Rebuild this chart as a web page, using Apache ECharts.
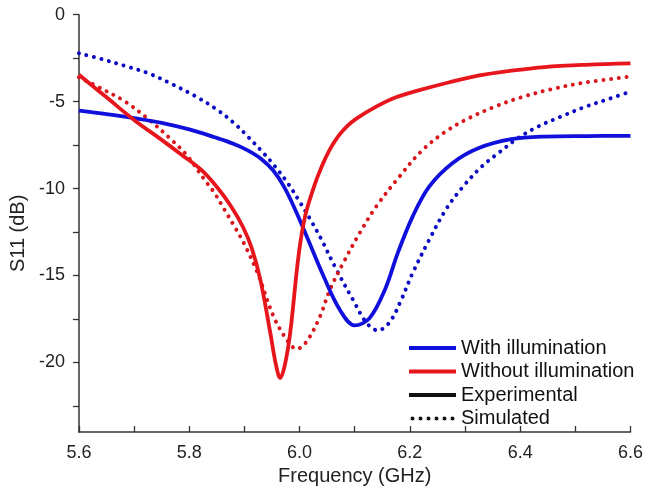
<!DOCTYPE html>
<html>
<head>
<meta charset="utf-8">
<script src="https://cdn.jsdelivr.net/npm/echarts@6/dist/echarts.min.js"></script>
<style>html,body{margin:0;padding:0;background:#fff}#c{width:646px;height:493px}</style>
</head>
<body>
<div id="c"></div>
<script>
// Experimental, with illumination
const expWith = [[5.6,-5.52],[5.65,-5.72],[5.7,-5.95],[5.75,-6.22],[5.8,-6.6],[5.846,-7.05],[5.88,-7.42],[5.906,-7.8],[5.93,-8.28],[5.952,-8.95],[5.972,-9.9],[5.992,-11.2],[6.015,-12.9],[6.043,-15.0],[6.073,-16.97],[6.1,-17.87],[6.127,-17.45],[6.155,-15.8],[6.178,-13.71],[6.205,-11.61],[6.235,-9.89],[6.277,-8.54],[6.324,-7.68],[6.384,-7.16],[6.444,-7.01],[6.52,-6.98],[6.6,-6.97]];
// Experimental, without illumination
const expWithout = [[5.6,-3.45],[5.65,-4.75],[5.7,-6.05],[5.75,-7.2],[5.786,-8.05],[5.822,-8.93],[5.852,-9.98],[5.876,-11.03],[5.897,-12.18],[5.913,-13.4],[5.929,-15.25],[5.947,-18.3],[5.957,-20.1],[5.965,-20.9],[5.973,-20.2],[5.983,-18.3],[5.998,-13.9],[6.01,-11.6],[6.025,-10.0],[6.04,-8.75],[6.055,-7.75],[6.07,-7.0],[6.085,-6.45],[6.103,-5.98],[6.139,-5.29],[6.175,-4.75],[6.214,-4.37],[6.27,-3.9],[6.324,-3.5],[6.384,-3.22],[6.444,-3.01],[6.52,-2.88],[6.6,-2.8]];
// Simulated, with illumination
const simWith = [[5.6,-2.22],[5.642,-2.56],[5.684,-2.95],[5.726,-3.37],[5.768,-3.98],[5.81,-4.67],[5.85,-5.45],[5.88,-6.2],[5.906,-7.0],[5.93,-7.8],[5.955,-8.7],[5.98,-9.75],[6.0,-10.75],[6.02,-11.8],[6.04,-12.95],[6.067,-14.67],[6.097,-16.4],[6.121,-17.7],[6.142,-18.16],[6.163,-17.7],[6.183,-16.5],[6.205,-14.86],[6.235,-12.95],[6.265,-11.22],[6.294,-9.98],[6.33,-8.74],[6.36,-7.97],[6.396,-7.1],[6.432,-6.44],[6.474,-5.86],[6.516,-5.32],[6.564,-4.81],[6.6,-4.42]];
// Simulated, without illumination
const simWithout = [[5.6,-3.6],[5.642,-4.27],[5.684,-5.0],[5.726,-6.01],[5.768,-7.2],[5.795,-8.06],[5.828,-9.5],[5.846,-10.26],[5.864,-11.22],[5.882,-12.18],[5.9,-13.2],[5.924,-14.86],[5.953,-17.36],[5.977,-18.7],[5.995,-19.23],[6.013,-18.79],[6.037,-17.36],[6.055,-15.82],[6.079,-14.29],[6.109,-12.56],[6.139,-11.03],[6.181,-9.31],[6.223,-7.78],[6.265,-6.72],[6.307,-5.95],[6.354,-5.29],[6.402,-4.75],[6.456,-4.29],[6.516,-3.91],[6.6,-3.56]];

const xTicks = [5.6,5.7,5.8,5.9,6.0,6.1,6.2,6.3,6.4,6.5,6.6];
const xLabels = [5.6,5.8,6.0,6.2,6.4,6.6];
const yTicks = [0,-2.5,-5,-7.5,-10,-12.5,-15,-17.5,-20,-22.5];
const yLabels = [0,-5,-10,-15,-20];

const legendNames = ['With illumination','Without illumination','Experimental','Simulated'];
const BLUE = '#1010dc', RED = '#e6161c', BLUE_D = '#0b0bc4', RED_D = '#d8161c';
const FONT = 'Liberation Sans, Arial, sans-serif';
const DOTS = 'path://M0,2a2,2 0 1,0 4,0a2,2 0 1,0 -4,0Z M8,2a2,2 0 1,0 4,0a2,2 0 1,0 -4,0Z M16,2a2,2 0 1,0 4,0a2,2 0 1,0 -4,0Z M24,2a2,2 0 1,0 4,0a2,2 0 1,0 -4,0Z M32,2a2,2 0 1,0 4,0a2,2 0 1,0 -4,0Z M40,2a2,2 0 1,0 4,0a2,2 0 1,0 -4,0Z';

const chart = echarts.init(document.getElementById('c'), null, {renderer:'canvas'});
const dotted = (c) => ({color:c, width:4, type:[0.01,7.7], cap:'round'});
const SM = 0.35;
chart.setOption({
  animation:false,
  backgroundColor:'#fff',
  grid:{left:77, right:12, top:14.7, bottom:61, containLabel:false},
  legend:{
    orient:'vertical', left:404, top:333, itemWidth:47, itemHeight:4, itemGap:3.5,
    data:[
      {name:legendNames[0], icon:'rect', itemStyle:{color:BLUE}},
      {name:legendNames[1], icon:'rect', itemStyle:{color:RED}},
      {name:legendNames[2], icon:'rect', itemStyle:{color:'#111'}},
      {name:legendNames[3], icon:DOTS, itemStyle:{color:'#111'}}
    ],
    selectedMode:false,
    textStyle:{fontFamily:FONT, fontSize:20, color:'#111'}
  },
  xAxis:{
    type:'value', min:5.6, max:6.6,
    name:'Frequency (GHz)', nameLocation:'middle', nameGap:28,
    nameTextStyle:{fontFamily:FONT, fontSize:20, color:'#222'},
    axisLine:{show:true, onZero:false, lineStyle:{color:'#333', width:1.5}},
    axisTick:{show:true, inside:true, length:6, customValues:xTicks, lineStyle:{color:'#333', width:1.3}},
    axisLabel:{customValues:xLabels, fontFamily:FONT, fontSize:18, color:'#222', margin:12, formatter:v=>v.toFixed(1)},
    splitLine:{show:false}
  },
  yAxis:{
    type:'value', min:-24, max:0,
    name:'S11 (dB)', nameLocation:'middle', nameGap:39, nameRotate:90,
    nameTextStyle:{fontFamily:FONT, fontSize:20, color:'#222', padding:[0,20,0,0]},
    axisLine:{show:true, onZero:false, lineStyle:{color:'#333', width:1.5}},
    axisTick:{show:true, inside:false, length:6, customValues:yTicks, lineStyle:{color:'#333', width:1.3}},
    axisLabel:{customValues:yLabels, fontFamily:FONT, fontSize:18, color:'#222', margin:14},
    splitLine:{show:false}
  },
  series:[
    {name:'sim-with', type:'line', data:simWith, showSymbol:false, symbol:'none', smooth:SM, lineStyle:dotted(BLUE_D), z:2},
    {name:'sim-without', type:'line', data:simWithout, showSymbol:false, symbol:'none', smooth:SM, lineStyle:dotted(RED_D), z:2},
    {name:'With illumination', type:'line', data:expWith, showSymbol:false, symbol:'none', smooth:SM, lineStyle:{color:BLUE, width:3.8}, color:BLUE, z:3},
    {name:'Without illumination', type:'line', data:expWithout, showSymbol:false, symbol:'none', smooth:SM, lineStyle:{color:RED, width:3.8}, color:RED, z:3},
    {name:'Experimental', type:'line', data:[], symbol:'none', lineStyle:{color:'#111', width:4}, color:'#111'},
    {name:'Simulated', type:'line', data:[], symbol:'none', lineStyle:{color:'#111', width:3.2, type:[0.01,7.6], cap:'round'}, color:'#111'}
  ]
});
</script>
</body>
</html>
